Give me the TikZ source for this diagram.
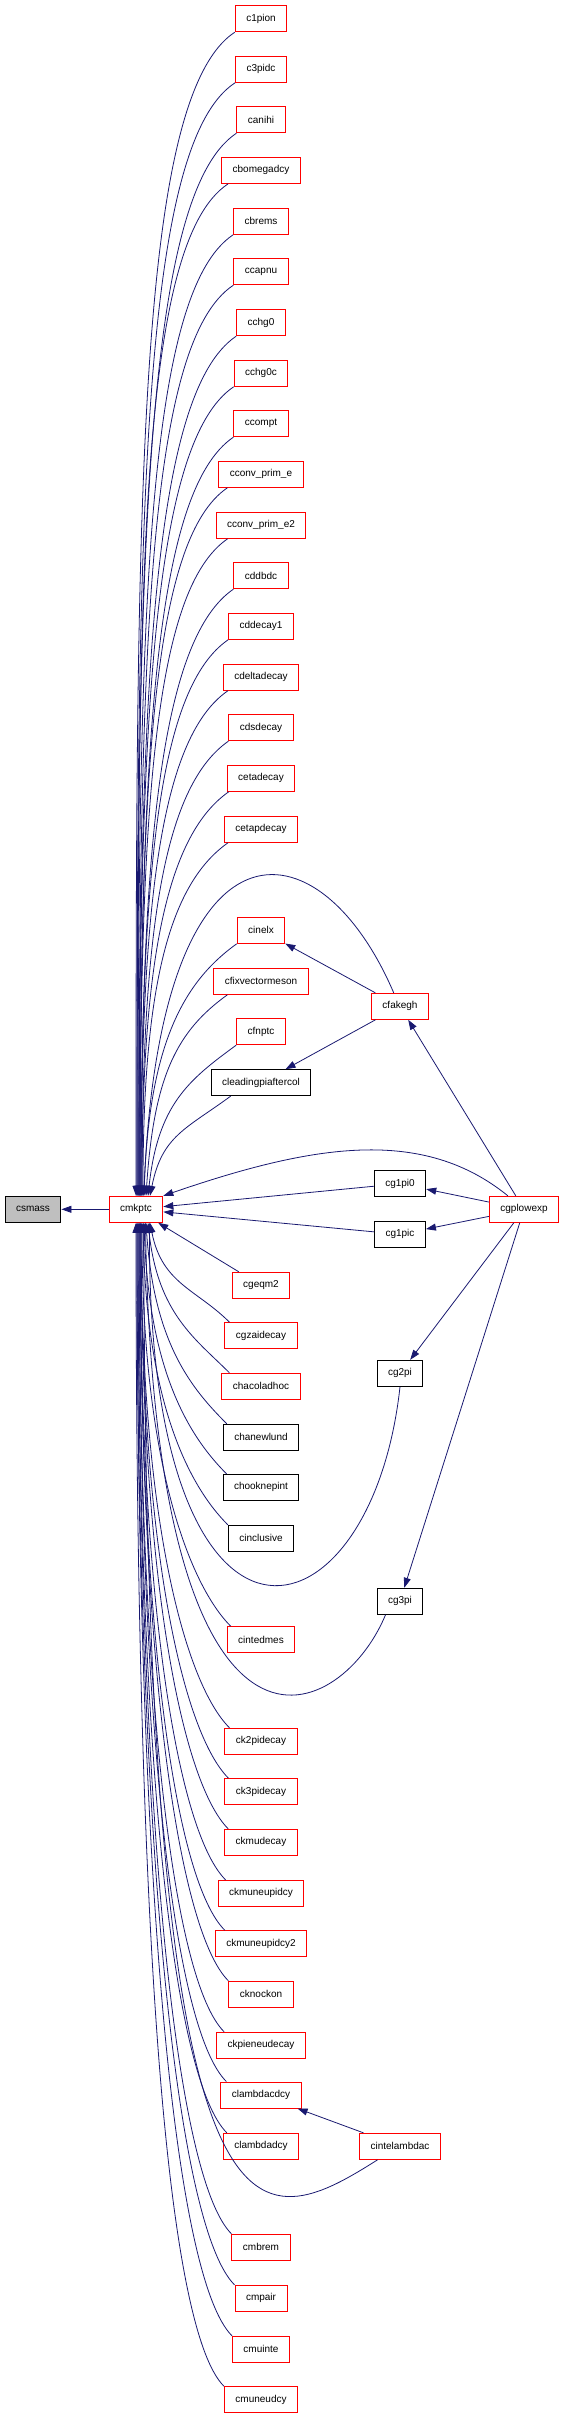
\documentclass[tikz,border=0pt]{standalone}
\usepackage{fontspec}
\setmainfont{Liberation Sans}
\usepackage{xcolor}
\usepackage{tikz}
\usetikzlibrary{arrows.meta}
\definecolor{edgeblue}{HTML}{191970}
\definecolor{boxred}{HTML}{FF0000}
\definecolor{rootgray}{HTML}{BFBFBF}

\begin{document}
\begin{tikzpicture}[x=1pt, y=1pt,
    >={Triangle[length=10pt,width=7pt]},
    fnred/.style={draw=boxred, line width=1pt, fill=white, minimum height=26pt,
        inner xsep=11pt, inner ysep=2pt, font=\fontsize{10pt}{12pt}\selectfont},
    fnblack/.style={fnred, draw=black},
    fnroot/.style={fnred, draw=black, fill=rootgray},
    call/.style={<-, draw=edgeblue, line width=0.8pt}]
    \useasboundingbox (0,0) rectangle (563,-2419);

    % Root and its caller
    \node[fnroot] (csmass) at (33,-1209.3) {csmass};
    \node[fnred] (cmkptc) at (136,-1209.3) {cmkptc};

    % Callers of cmkptc, upper half
    \node[fnred] (c1pion) at (261,-18.7) {c1pion};
    \node[fnred] (c3pidc) at (261,-69.3) {c3pidc};
    \node[fnred] (canihi) at (261,-119.7) {canihi};
    \node[fnred] (cbomegadcy) at (261,-170.3) {cbomegadcy};
    \node[fnred] (cbrems) at (261,-221.3) {cbrems};
    \node[fnred] (ccapnu) at (261,-271.7) {ccapnu};
    \node[fnred] (cchg0) at (261,-322.7) {cchg0};
    \node[fnred] (cchg0c) at (261,-373.3) {cchg0c};
    \node[fnred] (ccompt) at (261,-423.7) {ccompt};
    \node[fnred] (cconvprime) at (261,-474.3) {cconv\_prim\_e};
    \node[fnred] (cconvprimetwo) at (261,-525.3) {cconv\_prim\_e2};
    \node[fnred] (cddbdc) at (261,-575.7) {cddbdc};
    \node[fnred] (cddecayone) at (261,-626.3) {cddecay1};
    \node[fnred] (cdeltadecay) at (261,-677.3) {cdeltadecay};
    \node[fnred] (cdsdecay) at (261,-727.7) {cdsdecay};
    \node[fnred] (cetadecay) at (261,-778.3) {cetadecay};
    \node[fnred] (cetapdecay) at (261,-829.3) {cetapdecay};
    \node[fnred] (cinelx) at (261,-930.3) {cinelx};
    \node[fnred] (cfixvectormeson) at (261,-981.3) {cfixvectormeson};
    \node[fnred] (cfnptc) at (261,-1031.7) {cfnptc};
    \node[fnblack] (cleadingpiaftercol) at (261,-1082.7) {cleadingpiaftercol};

    % Callers of cmkptc, lower half
    \node[fnred] (cgeqm2) at (261,-1285.3) {cgeqm2};
    \node[fnred] (cgzaidecay) at (261,-1335.7) {cgzaidecay};
    \node[fnred] (chacoladhoc) at (261,-1386.3) {chacoladhoc};
    \node[fnblack] (chanewlund) at (261,-1437.3) {chanewlund};
    \node[fnblack] (chooknepint) at (261,-1487.3) {chooknepint};
    \node[fnblack] (cinclusive) at (261,-1538.3) {cinclusive};
    \node[fnred] (cintedmes) at (261,-1639.7) {cintedmes};
    \node[fnred] (ck2pidecay) at (261,-1741.3) {ck2pidecay};
    \node[fnred] (ck3pidecay) at (261,-1791.7) {ck3pidecay};
    \node[fnred] (ckmudecay) at (261,-1842.3) {ckmudecay};
    \node[fnred] (ckmuneupidcy) at (261,-1893.3) {ckmuneupidcy};
    \node[fnred] (ckmuneupidcy2) at (261,-1943.7) {ckmuneupidcy2};
    \node[fnred] (cknockon) at (261,-1994.3) {cknockon};
    \node[fnred] (ckpieneudecay) at (261,-2045.3) {ckpieneudecay};
    \node[fnred] (clambdacdcy) at (261,-2095) {clambdacdcy};
    \node[fnred] (clambdadcy) at (261,-2146.3) {clambdadcy};
    \node[fnred] (cmbrem) at (261,-2247.3) {cmbrem};
    \node[fnred] (cmpair) at (261,-2298.3) {cmpair};
    \node[fnred] (cmuinte) at (261,-2349.3) {cmuinte};
    \node[fnred] (cmuneudcy) at (261,-2399.7) {cmuneudcy};

    % Second level callers
    \node[fnred] (cfakegh) at (400,-1006.3) {cfakegh};
    \node[fnblack] (cg1pi0) at (400,-1183.7) {cg1pi0};
    \node[fnblack] (cg1pic) at (400,-1234.3) {cg1pic};
    \node[fnblack] (cg2pi) at (400,-1373.3) {cg2pi};
    \node[fnblack] (cg3pi) at (400,-1601.3) {cg3pi};
    \node[fnred] (cgplowexp) at (524,-1209.3) {cgplowexp};
    \node[fnred] (cintelambdac) at (400,-2146.3) {cintelambdac};

    % Straight calls
    \draw[call] (csmass) -- (cmkptc);
    \draw[call] (cmkptc) -- (cgeqm2);
    \draw[call] (cmkptc) -- (cg1pi0);
    \draw[call] (cmkptc) -- (cg1pic);
    \draw[call] (cinelx) -- (cfakegh);
    \draw[call] (cleadingpiaftercol) -- (cfakegh);
    \draw[call] (cfakegh) -- (cgplowexp);
    \draw[call] (cg1pi0) -- (cgplowexp);
    \draw[call] (cg1pic) -- (cgplowexp);
    \draw[call] (cg2pi) -- (cgplowexp);
    \draw[call] (cg3pi) -- (cgplowexp);
    \draw[call] (clambdacdcy) -- (cintelambdac);

    % Upper fan into cmkptc
    \draw[call] (cmkptc.north) .. controls +(0,698) and +(-98,-65) .. (c1pion.south west);
    \draw[call] ([xshift=1pt]cmkptc.north) .. controls +(0,668) and +(-96,-63) .. (c3pidc.south west);
    \draw[call] ([xshift=1pt]cmkptc.north) .. controls +(0,638) and +(-93,-62) .. (canihi.south west);
    \draw[call] ([xshift=2pt]cmkptc.north) .. controls +(0,608) and +(-91,-60) .. ([xshift=7pt]cbomegadcy.south west);
    \draw[call] ([xshift=2pt]cmkptc.north) .. controls +(0,577) and +(-88,-59) .. (cbrems.south west);
    \draw[call] ([xshift=3pt]cmkptc.north) .. controls +(0,547) and +(-86,-57) .. (ccapnu.south west);
    \draw[call] ([xshift=3pt]cmkptc.north) .. controls +(0,516) and +(-83,-56) .. (cchg0.south west);
    \draw[call] ([xshift=3pt]cmkptc.north) .. controls +(0,486) and +(-80,-54) .. (cchg0c.south west);
    \draw[call] ([xshift=4pt]cmkptc.north) .. controls +(0,455) and +(-78,-53) .. (ccompt.south west);
    \draw[call] ([xshift=4pt]cmkptc.north) .. controls +(0,425) and +(-75,-51) .. ([xshift=9pt]cconvprime.south west);
    \draw[call] ([xshift=4pt]cmkptc.north) .. controls +(0,395) and +(-73,-50) .. ([xshift=12pt]cconvprimetwo.south west);
    \draw[call] ([xshift=5pt]cmkptc.north) .. controls +(0,364) and +(-70,-48) .. (cddbdc.south west);
    \draw[call] ([xshift=5pt]cmkptc.north) .. controls +(0,334) and +(-68,-47) .. (cddecayone.south west);
    \draw[call] ([xshift=5pt]cmkptc.north) .. controls +(0,304) and +(-65,-45) .. ([xshift=5pt]cdeltadecay.south west);
    \draw[call] ([xshift=6pt]cmkptc.north) .. controls +(0,273) and +(-63,-44) .. (cdsdecay.south west);
    \draw[call] ([xshift=6pt]cmkptc.north) .. controls +(0,243) and +(-60,-42) .. ([xshift=2pt]cetadecay.south west);
    \draw[call] ([xshift=7pt]cmkptc.north) .. controls +(0,212) and +(-58,-41) .. ([xshift=4pt]cetapdecay.south west);
    \draw[call] ([xshift=8pt]cmkptc.north) .. controls +(5,152) and +(-53,-38) .. (cinelx.south west);
    \draw[call] ([xshift=10pt]cmkptc.north) .. controls +(8,121) and +(-50,-36) .. ([xshift=14pt]cfixvectormeson.south west);
    \draw[call] ([xshift=12pt]cmkptc.north) .. controls +(10,91) and +(-48,-35) .. (cfnptc.south west);
    \draw[call] ([xshift=14pt]cmkptc.north) .. controls +(12,60) and +(-45,-33) .. ([xshift=20pt]cleadingpiaftercol.south west);

    % Lower fan into cmkptc
    \draw[call] ([xshift=14pt]cmkptc.south) .. controls +(12,-61) and +(-33,33) .. ([xshift=5pt]cgzaidecay.north west);
    \draw[call] ([xshift=12pt]cmkptc.south) .. controls +(10,-91) and +(-34,34) .. ([xshift=8pt]chacoladhoc.north west);
    \draw[call] ([xshift=10pt]cmkptc.south) .. controls +(8,-121) and +(-35,35) .. ([xshift=4pt]chanewlund.north west);
    \draw[call] ([xshift=8pt]cmkptc.south) .. controls +(5,-151) and +(-36,36) .. ([xshift=4pt]chooknepint.north west);
    \draw[call] ([xshift=7pt]cmkptc.south) .. controls +(3,-182) and +(-38,38) .. (cinclusive.north west);
    \draw[call] ([xshift=6pt]cmkptc.south) .. controls +(0,-243) and +(-40,40) .. ([xshift=4pt]cintedmes.north west);
    \draw[call] ([xshift=5pt]cmkptc.south) .. controls +(0,-304) and +(-43,43) .. ([xshift=5pt]ck2pidecay.north west);
    \draw[call] ([xshift=5pt]cmkptc.south) .. controls +(0,-334) and +(-44,44) .. ([xshift=4pt]ck3pidecay.north west);
    \draw[call] ([xshift=5pt]cmkptc.south) .. controls +(0,-364) and +(-45,45) .. ([xshift=4pt]ckmudecay.north west);
    \draw[call] ([xshift=4pt]cmkptc.south) .. controls +(0,-395) and +(-46,46) .. ([xshift=8pt]ckmuneupidcy.north west);
    \draw[call] ([xshift=4pt]cmkptc.south) .. controls +(0,-425) and +(-48,48) .. ([xshift=10pt]ckmuneupidcy2.north west);
    \draw[call] ([xshift=4pt]cmkptc.south) .. controls +(0,-455) and +(-49,49) .. (cknockon.north west);
    \draw[call] ([xshift=3pt]cmkptc.south) .. controls +(0,-486) and +(-50,50) .. ([xshift=8pt]ckpieneudecay.north west);
    \draw[call] ([xshift=3pt]cmkptc.south) .. controls +(0,-516) and +(-52,52) .. ([xshift=6pt]clambdacdcy.north west);
    \draw[call] ([xshift=2pt]cmkptc.south) .. controls +(0,-547) and +(-53,53) .. ([xshift=4pt]clambdadcy.north west);
    \draw[call] ([xshift=2pt]cmkptc.south) .. controls +(0,-607) and +(-55,55) .. (cmbrem.north west);
    \draw[call] ([xshift=1pt]cmkptc.south) .. controls +(0,-638) and +(-57,57) .. (cmpair.north west);
    \draw[call] ([xshift=1pt]cmkptc.south) .. controls +(0,-668) and +(-58,58) .. (cmuinte.north west);
    \draw[call] (cmkptc.south) .. controls +(0,-699) and +(-59,59) .. (cmuneudcy.north west);

    % Curved calls from the second level
    \draw[call] (cmkptc.60) .. controls +(16,396) and +(-74,173) .. (cfakegh.115);
    \draw[call] (cmkptc.north east) .. controls +(151,52) and +(-85,69) .. ([xshift=19pt]cgplowexp.north west);
    \draw[call] (cmkptc.315) .. controls +(-2,-478) and +(-29,-264) .. (cg2pi.south);
    \draw[call] (cmkptc.305) .. controls +(10,-588) and +(-46,-111) .. (cg3pi.223);
    \draw[call] (cmkptc.300) .. controls +(1.5,-1058) and +(-128,-81) .. (cintelambdac.211);
\end{tikzpicture}
\end{document}
